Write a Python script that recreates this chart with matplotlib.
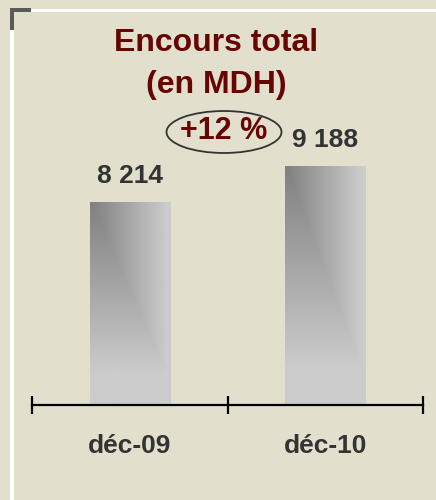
import numpy as np
import matplotlib
matplotlib.use("Agg")
import matplotlib.pyplot as plt
from matplotlib.patches import Ellipse, Rectangle

# Données
categories = ["déc-09", "déc-10"]
encours = [8214, 9188]
labels_valeurs = ["8 214", "9 188"]
titre = "Encours total\n(en MDH)"
variation = "+12 %"

plt.rcParams['font.family'] = ['Liberation Sans', 'DejaVu Sans']

fond = '#E2E0CC'
rouge = '#670505'
gris_texte = '#333333'

W, H = 436, 500
fig = plt.figure(figsize=(W / 100, H / 100), dpi=100, facecolor=fond)

# axes : de x=32 à x=423, de y=405 (bas) à y=20 (haut), en pixels
ax = fig.add_axes([32 / W, (H - 405) / H, (423 - 32) / W, (405 - 20) / H])
ax.set_facecolor('none')

x = np.arange(len(categories))
barres = ax.bar(x, encours, width=0.41, color='none', edgecolor='none', zorder=2)

ymin = 2720
ymax = ymin + 385 / 0.03696
xlim = (-0.5, 1.5)

# dégradé gris dans chaque barre (foncé en haut à gauche)
for b in barres:
    x0, y0 = b.get_x(), ymin
    x1, y1 = b.get_x() + b.get_width(), b.get_height()
    ny, nx = 200, 80
    hh = np.linspace(0, 1, nx)[None, :]
    vv = np.linspace(0, 1, ny)[:, None] / 0.85
    t = np.clip(np.maximum(hh * 1.05, vv), 0, 1)
    g = (128 + (204 - 128) * t) / 255
    img = np.dstack([g, g, g])
    im = ax.imshow(img, extent=(x0, x1, y0, y1), aspect='auto', zorder=2,
                   interpolation='bilinear', origin='upper')
    im.set_clip_path(b)

ax.set_xlim(*xlim)
ax.set_ylim(ymin, ymax)

# étiquettes de valeur
for xi, v, lab in zip(x, encours, labels_valeurs):
    ax.text(xi, v + 370, lab, ha='center', va='bottom', fontsize=19,
            fontweight='bold', color=gris_texte)

# axe horizontal avec graduations aux limites des catégories
for s in ['top', 'right', 'left']:
    ax.spines[s].set_visible(False)
ax.spines['bottom'].set_linewidth(1.6)
ax.spines['bottom'].set_zorder(3)
ax.set_yticks([])
ax.set_xticks([-0.5, 0.5, 1.5])
ax.set_xticklabels([])
ax.tick_params(axis='x', which='major', direction='inout', length=13.5, width=1.6)
ax.set_xticks(x, minor=True)
ax.set_xticklabels(categories, minor=True)
ax.tick_params(axis='x', which='minor', length=0, pad=21, labelsize=19,
               labelcolor=gris_texte)
for t in ax.get_xticklabels(minor=True):
    t.set_fontweight('bold')

# titre
fig.text(216 / W, 1 - 64 / H, titre, ha='center', va='center', fontsize=23,
         fontweight='bold', color=rouge, linespacing=1.5)

# variation dans une ellipse
fig.text(224 / W, 1 - 131 / H, variation, ha='center', va='center', fontsize=22,
         fontweight='bold', color=rouge)
fig.patches.append(Ellipse((224 / W, 1 - 132 / H), 115 / W, 42 / H,
                           transform=fig.transFigure, fill=False,
                           edgecolor='#333333', linewidth=1.3))

# cadre : liseré blanc haut et gauche, coin gris foncé
fig.patches.append(Rectangle((31 / W, 1 - 12 / H), (W - 31) / W, 3 / H,
                             transform=fig.transFigure, color='white', lw=0))
fig.patches.append(Rectangle((10 / W, 0), 4 / W, (H - 30) / H,
                             transform=fig.transFigure, color='white', lw=0))
fig.patches.append(Rectangle((10 / W, 1 - 12 / H), 21 / W, 4 / H,
                             transform=fig.transFigure, color='#5A5A5A', lw=0))
fig.patches.append(Rectangle((10 / W, 1 - 30 / H), 4 / W, 22 / H,
                             transform=fig.transFigure, color='#5A5A5A', lw=0))

fig.savefig('out.png', dpi=100, facecolor=fond)
